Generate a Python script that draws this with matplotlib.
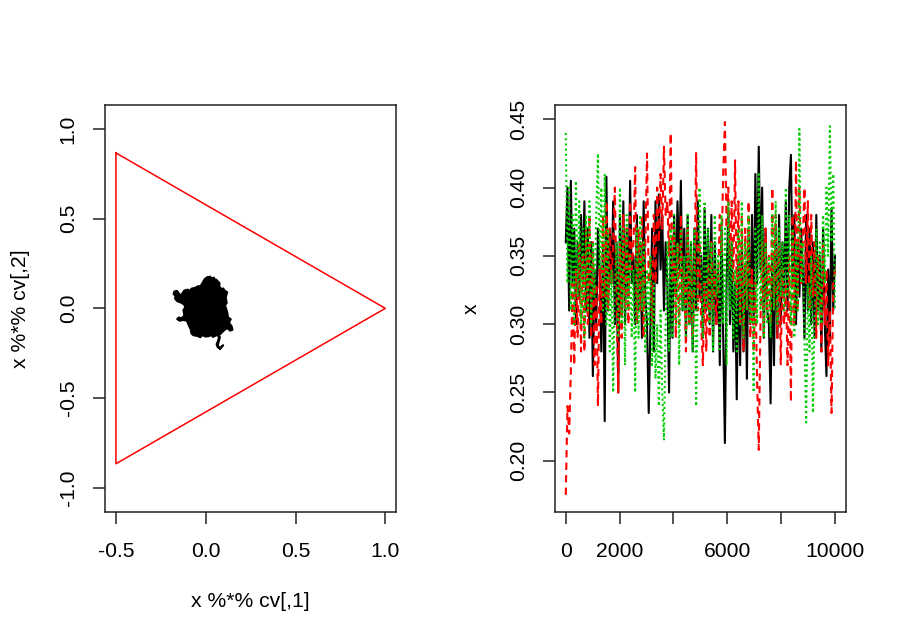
import numpy as np
import matplotlib
matplotlib.use("Agg")
import matplotlib.pyplot as plt

plt.rcParams['font.family'] = ['Liberation Sans', 'DejaVu Sans']

# ---- Left panel data ----
tri_x = [-0.5, -0.5, 1.0, -0.5]
tri_y = [0.866, -0.866, 0.0, 0.866]

walk_x = [0.024, 0.035, 0.045, 0.052, 0.060, 0.066, 0.070, 0.078, 0.075, 0.090, 0.098, 0.105, 0.120, 0.112,
          0.118, 0.108, 0.112, 0.120, 0.125, 0.140, 0.130, 0.145, 0.150, 0.135, 0.120, 0.100, 0.085,
          0.075, 0.070, 0.060, 0.065, 0.080, 0.090, 0.098, 0.088, 0.078, 0.068, 0.075, 0.080, 0.060,
          0.040, 0.030, 0.020, 0.000, -0.020, -0.030, -0.045, -0.070, -0.080, -0.085, -0.095, -0.105,
          -0.125, -0.145, -0.160, -0.150, -0.135, -0.120, -0.125, -0.115, -0.120, -0.135, -0.160, -0.172,
          -0.168, -0.180, -0.175, -0.160, -0.150, -0.140, -0.130, -0.120, -0.100, -0.090, -0.080, -0.060,
          -0.040, -0.030, -0.020, -0.005, 0.010, 0.024]
walk_y = [0.176, 0.168, 0.172, 0.160, 0.160, 0.150, 0.150, 0.138, 0.125, 0.105, 0.112, 0.100, 0.090, 0.060,
          0.030, 0.018, 0.005, -0.020, -0.050, -0.060, -0.080, -0.100, -0.120, -0.125, -0.110, -0.125, -0.140,
          -0.150, -0.175, -0.200, -0.215, -0.228, -0.215, -0.205, -0.212, -0.222, -0.205, -0.178, -0.160, -0.150,
          -0.160, -0.148, -0.155, -0.158, -0.150, -0.162, -0.155, -0.150, -0.140, -0.115, -0.095, -0.070,
          -0.065, -0.070, -0.060, -0.050, -0.055, -0.040, -0.010, 0.005, 0.020, 0.030, 0.040, 0.055,
          0.068, 0.080, 0.095, 0.098, 0.085, 0.070, 0.085, 0.100, 0.105, 0.098, 0.110, 0.115,
          0.125, 0.122, 0.140, 0.165, 0.175, 0.176]

# ---- Right panel data (three chains) ----
black_vals = [
    0.36, 0.40, 0.31, 0.405, 0.33, 0.37, 0.30, 0.36, 0.32, 0.38,
    0.33, 0.39, 0.31, 0.37, 0.29, 0.36, 0.262, 0.34, 0.30, 0.37,
    0.34, 0.28, 0.36, 0.229, 0.408, 0.31, 0.37, 0.33, 0.39, 0.30,
    0.36, 0.25, 0.38, 0.31, 0.39, 0.30, 0.37, 0.32, 0.405, 0.33,
    0.35, 0.30, 0.38, 0.31, 0.36, 0.29, 0.39, 0.32, 0.30, 0.235,
    0.30, 0.37, 0.28, 0.39, 0.33, 0.395, 0.34, 0.38, 0.31, 0.36,
    0.33, 0.25, 0.36, 0.29, 0.38, 0.32, 0.39, 0.34, 0.405, 0.31,
    0.37, 0.29, 0.38, 0.30, 0.36, 0.28, 0.37, 0.31, 0.39, 0.32,
    0.35, 0.29, 0.385, 0.31, 0.37, 0.30, 0.38, 0.28, 0.36, 0.30,
    0.34, 0.27, 0.37, 0.29, 0.213, 0.33, 0.385, 0.30, 0.36, 0.28,
    0.33, 0.245, 0.35, 0.27, 0.36, 0.28, 0.34, 0.26, 0.37, 0.30,
    0.38, 0.30, 0.41, 0.33, 0.43, 0.34, 0.40, 0.29, 0.37, 0.31,
    0.30, 0.242, 0.35, 0.27, 0.37, 0.29, 0.38, 0.30, 0.36, 0.32,
    0.39, 0.31, 0.40, 0.424, 0.33, 0.38, 0.30, 0.36, 0.32, 0.37,
    0.34, 0.29, 0.38, 0.31, 0.37, 0.30, 0.36, 0.29, 0.38, 0.31,
    0.35, 0.28, 0.37, 0.30, 0.262, 0.34, 0.29, 0.385, 0.31, 0.35]
red_vals = [
    0.175, 0.24, 0.22, 0.265, 0.33, 0.27, 0.34, 0.29, 0.36, 0.28,
    0.35, 0.28, 0.37, 0.30, 0.38, 0.29, 0.36, 0.27, 0.33, 0.24,
    0.34, 0.30, 0.38, 0.32, 0.39, 0.31, 0.37, 0.33, 0.36, 0.40,
    0.32, 0.25, 0.36, 0.29, 0.38, 0.31, 0.37, 0.30, 0.39, 0.34,
    0.36, 0.415, 0.30, 0.37, 0.31, 0.38, 0.29, 0.36, 0.425, 0.33,
    0.35, 0.30, 0.38, 0.33, 0.40, 0.36, 0.41, 0.37, 0.43, 0.38,
    0.39, 0.35, 0.44, 0.33, 0.37, 0.29, 0.36, 0.30, 0.38, 0.32,
    0.34, 0.28, 0.37, 0.30, 0.35, 0.29, 0.33, 0.426, 0.31, 0.36,
    0.30, 0.27, 0.33, 0.28, 0.35, 0.29, 0.36, 0.31, 0.34, 0.30,
    0.33, 0.38, 0.35, 0.41, 0.448, 0.37, 0.40, 0.34, 0.39, 0.33,
    0.42, 0.32, 0.39, 0.30, 0.38, 0.28, 0.37, 0.31, 0.39, 0.29,
    0.34, 0.28, 0.33, 0.26, 0.208, 0.30, 0.36, 0.29, 0.37, 0.31,
    0.35, 0.30, 0.40, 0.31, 0.38, 0.29, 0.36, 0.27, 0.34, 0.30,
    0.33, 0.27, 0.35, 0.243, 0.38, 0.30, 0.42, 0.31, 0.40, 0.33,
    0.36, 0.40, 0.33, 0.39, 0.31, 0.38, 0.32, 0.36, 0.29, 0.35,
    0.33, 0.28, 0.36, 0.30, 0.34, 0.27, 0.31, 0.235, 0.33, 0.34]
green_vals = [
    0.44, 0.33, 0.40, 0.31, 0.38, 0.30, 0.405, 0.32, 0.39, 0.30,
    0.37, 0.29, 0.38, 0.31, 0.39, 0.30, 0.36, 0.32, 0.38, 0.425,
    0.34, 0.40, 0.31, 0.41, 0.30, 0.37, 0.28, 0.34, 0.25, 0.33,
    0.36, 0.29, 0.40, 0.30, 0.37, 0.27, 0.38, 0.31, 0.35, 0.29,
    0.34, 0.25, 0.37, 0.29, 0.38, 0.31, 0.36, 0.28, 0.34, 0.30,
    0.35, 0.27, 0.33, 0.26, 0.30, 0.24, 0.31, 0.25, 0.215, 0.30,
    0.36, 0.28, 0.37, 0.29, 0.38, 0.30, 0.36, 0.27, 0.37, 0.31,
    0.35, 0.29, 0.38, 0.30, 0.36, 0.28, 0.37, 0.24, 0.33, 0.40,
    0.34, 0.29, 0.39, 0.31, 0.37, 0.30, 0.36, 0.28, 0.38, 0.32,
    0.35, 0.28, 0.38, 0.30, 0.37, 0.27, 0.39, 0.31, 0.36, 0.29,
    0.34, 0.28, 0.37, 0.30, 0.39, 0.29, 0.36, 0.31, 0.38, 0.30,
    0.33, 0.25, 0.37, 0.30, 0.41, 0.31, 0.38, 0.29, 0.36, 0.30,
    0.35, 0.29, 0.38, 0.31, 0.39, 0.30, 0.37, 0.32, 0.36, 0.31,
    0.40, 0.32, 0.38, 0.30, 0.37, 0.29, 0.36, 0.31, 0.443, 0.33,
    0.36, 0.29, 0.228, 0.33, 0.28, 0.35, 0.235, 0.31, 0.37, 0.30,
    0.36, 0.30, 0.38, 0.33, 0.40, 0.35, 0.445, 0.36, 0.41, 0.31]

n_iter = 10000
left_xticks = [-0.5, 0.0, 0.5, 1.0]
left_yticks = [-1.0, -0.5, 0.0, 0.5, 1.0]
right_xticks = [0, 2000, 4000, 6000, 8000, 10000]
right_xticklabels = ['0', '2000', '', '6000', '', '10000']
right_yticks = [0.20, 0.25, 0.30, 0.35, 0.40, 0.45]

FS = 15.2
W, H = 900, 643
fig = plt.figure(figsize=(9, 6.43), dpi=100)

def style(ax):
    for s in ax.spines.values():
        s.set_linewidth(1.1)
        s.set_color('#222222')
    ax.tick_params(length=8.6, width=1.1, labelsize=FS, color='#222222')
    ax.tick_params(axis='x', pad=13.0)
    ax.tick_params(axis='y', pad=11.0)

axL = fig.add_axes([105 / W, 1 - 511.7 / H, 290.7 / W, 406.7 / H])
axL.plot(tri_x, tri_y, color='#FF0000', lw=1.1)
axL.fill(walk_x, walk_y, color='black', lw=0)
axL.plot(walk_x, walk_y, color='black', lw=1.3)
axL.set_xlim(-0.561, 1.058)
axL.set_ylim(-1.133, 1.133)
axL.set_xticks(left_xticks)
axL.set_xticklabels([f"{v:.1f}" for v in left_xticks])
axL.set_yticks(left_yticks)
axL.set_yticklabels([f"{v:.1f}" for v in left_yticks], rotation=90, va='center')
style(axL)
axL.set_xlabel('x %*% cv[,1]', fontsize=FS, labelpad=22.5)
axL.set_ylabel('x %*% cv[,2]', fontsize=FS, labelpad=20.5)

axR = fig.add_axes([555 / W, 1 - 511.7 / H, 290.7 / W, 406.7 / H])
it_b = np.linspace(1, n_iter, len(black_vals))
it_r = np.linspace(1, n_iter, len(red_vals))
it_g = np.linspace(1, n_iter, len(green_vals))
axR.plot(it_b, black_vals, color='black', lw=1.5, ls='-')
axR.plot(it_r, red_vals, color='#FF0000', lw=1.5, dashes=(3.5, 2.5))
axR.plot(it_g, green_vals, color='#00CD00', lw=1.5, dashes=(1, 1.5))
axR.set_xlim(-399, 10400)
axR.set_ylim(0.1627, 0.4605)
axR.set_xticks(right_xticks)
axR.set_xticklabels(right_xticklabels)
axR.set_yticks(right_yticks)
axR.set_yticklabels([f"{v:.2f}" for v in right_yticks], rotation=90, va='center')
style(axR)
axR.set_ylabel('x', fontsize=FS, labelpad=20.5)

fig.savefig('out.png', dpi=100)
